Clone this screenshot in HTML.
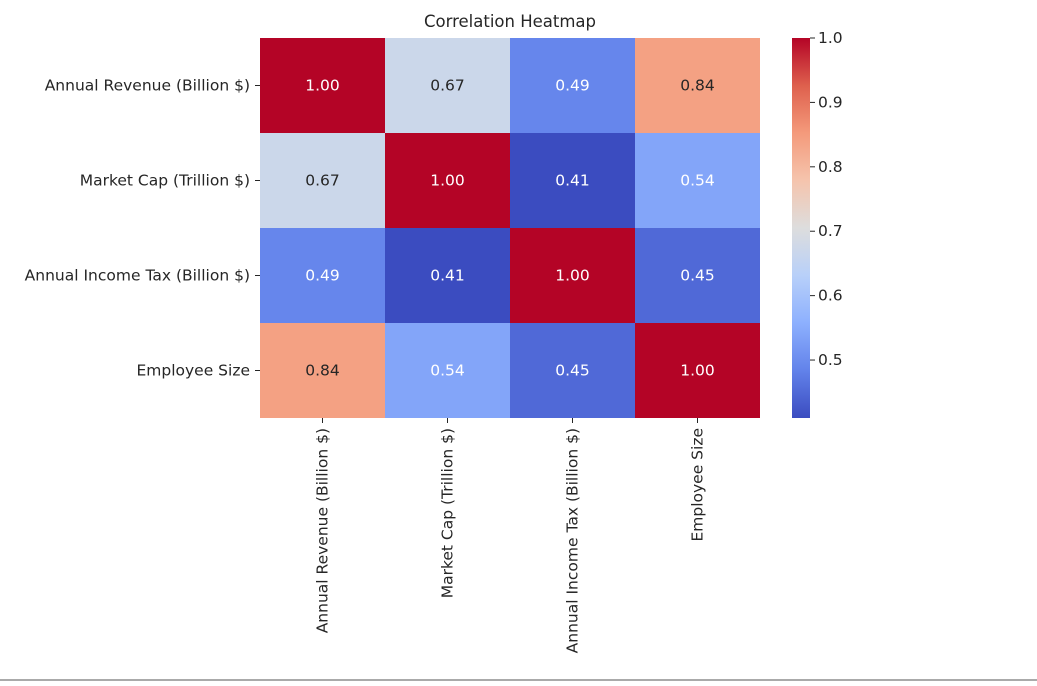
<!DOCTYPE html>
<html><head><meta charset="utf-8"><style>
body{margin:0;background:#fff;width:1037px;height:681px;overflow:hidden}
svg text{font-family:"DejaVu Sans","Liberation Sans",sans-serif;fill:#262626}
</style></head><body>
<svg id="c" width="1037" height="681">
<defs><linearGradient id="cg" x1="0" y1="1" x2="0" y2="0"></linearGradient></defs>
<text x="510" y="27" text-anchor="middle" font-size="16.5">Correlation Heatmap</text>
<rect x="0" y="679" width="1037" height="2" fill="#aaa"/>
</svg>
<script>
const labels=["Annual Revenue (Billion $)","Market Cap (Trillion $)","Annual Income Tax (Billion $)","Employee Size"];
const row0=[1.00,0.67,0.49,0.84];
const row1=[0.67,1.00,0.41,0.54];
const row2=[0.49,0.41,1.00,0.45];
const row3=[0.84,0.54,0.45,1.00];
const cbTicks=[0.5,0.6,0.7,0.8,0.9,1.0];
const rows=[row0,row1,row2,row3];
const vmin=0.41,vmax=1.0;
const X0=260,Y0=38,CW=125,CH=95;
const stops=[[59,76,192],[98,130,234],[141,176,254],[184,208,249],[221,221,221],[245,196,173],[244,154,123],[222,96,77],[180,4,38]];
function cmap(t){t=Math.max(0,Math.min(1,t));const p=t*8,i=Math.min(7,Math.floor(p)),f=p-i;const a=stops[i],b=stops[i+1];return a.map((v,k)=>Math.round(v+(b[k]-v)*f));}
function norm(v){return (v-vmin)/(vmax-vmin);}
const svg=document.getElementById('c');const NS='http://www.w3.org/2000/svg';
function mk(t,at,txt){const e=document.createElementNS(NS,t);for(const k in at)e.setAttribute(k,at[k]);if(txt!==undefined)e.textContent=txt;svg.appendChild(e);return e;}
const FS=15.5;
rows.forEach((r,i)=>r.forEach((v,j)=>{
 const c=cmap(norm(v));
 const rc=mk('rect',{x:X0+j*CW,y:Y0+i*CH,width:CW,height:CH,fill:`rgb(${c})`});
 
 
 const lum=(0.2126*c[0]+0.7152*c[1]+0.0722*c[2])/255;
 const tx=mk('text',{x:X0+j*CW+CW/2,y:Y0+i*CH+CH/2+5,'text-anchor':'middle','font-size':FS,style:'fill:'+(lum>0.65?'#262626':'#fff')},v.toFixed(2));
 
 
}));
labels.forEach((l,i)=>{
 const y=Y0+i*CH+CH/2;
 mk('line',{x1:X0-5,x2:X0,y1:y,y2:y,stroke:'#262626'});
 const t=mk('text',{x:X0-10,y:y+5,'text-anchor':'end','font-size':FS},l);
 
 
 const x=X0+i*CW+CW/2,yb=Y0+4*CH;
 mk('line',{x1:x,x2:x,y1:yb,y2:yb+5,stroke:'#262626'});
 const t2=mk('text',{x:0,y:0,'text-anchor':'end','font-size':FS,transform:`translate(${x+5},${yb+10}) rotate(-90)`},l);
 
 
});
const g=document.getElementById('cg');
for(let k=0;k<=8;k++){const s=document.createElementNS(NS,'stop');s.setAttribute('offset',k/8);s.setAttribute('stop-color',`rgb(${stops[k]})`);g.appendChild(s);}
const CBX=792,CBW=18,CBT=38,CBB=418;
const cb=mk('rect',{x:CBX,y:CBT,width:CBW,height:CBB-CBT,fill:'url(#cg)'});


cbTicks.forEach(v=>{
 const y=CBB-norm(v)*(CBB-CBT);
 mk('line',{x1:CBX+CBW,x2:CBX+CBW+5,y1:y,y2:y,stroke:'#262626'});
 const t=mk('text',{x:CBX+CBW+8,y:y+5,'font-size':FS},v.toFixed(1));
 
 
});
</script>
</body></html>
